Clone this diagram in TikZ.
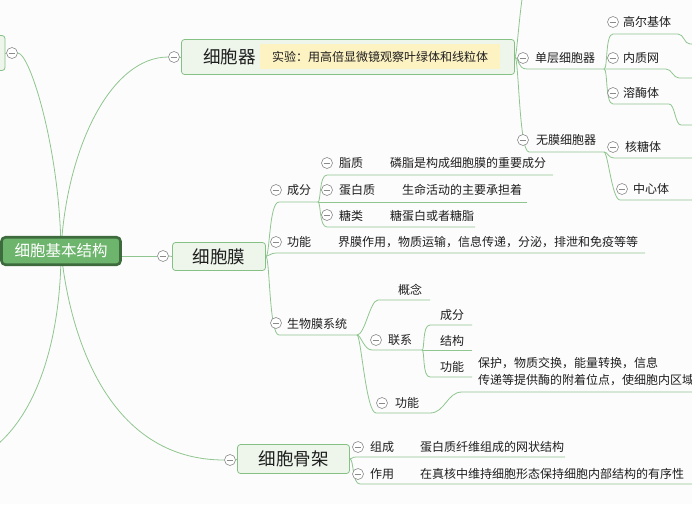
\documentclass[tikz,border=0pt]{standalone}
\usepackage{fontspec}
\setmainfont{Noto Sans CJK SC}
\definecolor{mmbg}{HTML}{FCFCFC}
\definecolor{mmline}{HTML}{8FC68F}
\definecolor{mmgray}{HTML}{8A8A8A}
\definecolor{mmfill}{HTML}{EEF6EC}
\definecolor{mmborder}{HTML}{85C185}
\definecolor{mmroot}{HTML}{6DB46D}
\definecolor{mmrootdark}{HTML}{3E6B3E}
\definecolor{mmnote}{HTML}{FDF2C2}
\definecolor{mmtext}{HTML}{1E1E1E}
\tikzset{
  topic/.style={draw=mmborder, fill=mmfill, rounded corners=3pt, line width=0.8pt,
    inner sep=0pt, text=mmtext, font=\fontsize{17.5}{20}\selectfont},
  roottopic/.style={draw=mmrootdark, fill=mmroot, rounded corners=4pt, line width=2.6pt,
    inner sep=0pt, text=white, font=\fontsize{15.5}{18}\selectfont,
    minimum width=119pt, minimum height=27.5pt},
  fold/.style={circle, draw=mmgray, fill=white, line width=0.6pt, minimum size=11pt,
    inner sep=0pt, path picture={\draw[mmgray, line width=0.7pt]
      ([xshift=-3.3pt]path picture bounding box.center) --
      ([xshift=3.3pt]path picture bounding box.center);}},
  lbl/.style={anchor=west, inner sep=0pt, text=mmtext, font=\fontsize{12}{14}\selectfont},
  notebox/.style={fill=mmnote, inner sep=0pt, minimum width=240pt, minimum height=25pt,
    text=mmtext, font=\fontsize{12}{14}\selectfont},
  conn/.style={draw=mmline, line width=0.8pt},
}

\begin{document}
\begin{tikzpicture}[x=1pt, y=-1pt]
  \useasboundingbox (0,0) rectangle (692,504);
  \fill[mmbg] (0,0) rectangle (692,504);
  \clip (0,0) rectangle (692,504);

  % topics
  \node[topic, minimum width=100pt, minimum height=35pt] (left) at (-45,53) {};
  \node[topic, minimum width=333pt, minimum height=35pt] (qi) at (348,57) {};
  \node[topic, minimum width=93pt, minimum height=28pt] (mem) at (219,256.5) {细胞膜};
  \node[topic, minimum width=112pt, minimum height=29pt] (sk) at (293.5,459) {细胞骨架};

  % folds
  \node[fold] (f-left) at (12,53) {};
  \node[fold] (f-qi) at (174,57) {};
  \node[fold] (f-mem) at (163,256) {};
  \node[fold] (f-sk) at (230,460) {};

  % underline ends
  \coordinate (hub) at (61,251);
  \coordinate (qi-up) at (535,-40);
  \coordinate (offleft) at (-40,465);
  \coordinate (dc-s) at (527,69);   \coordinate (dc-e) at (604,69);
  \coordinate (wm-s) at (529,152);  \coordinate (wm-e) at (604,152);
  \coordinate (gej-s) at (613,34);  \coordinate (gej-e) at (678,34);  \coordinate (gej-o) at (690,44);
  \coordinate (nzw-e) at (666,69);  \coordinate (nzw-o) at (679,78);
  \coordinate (rmt-s) at (613,104); \coordinate (rmt-e) at (669,104); \coordinate (rmt-o) at (681,125);
  \coordinate (htt-s) at (614,158);
  \coordinate (zxt-s) at (620,200);
  \coordinate (cf-s) at (279,202);  \coordinate (cf-e) at (318,202);
  \coordinate (gn-s) at (276,253);  \coordinate (gn-e) at (645,253);
  \coordinate (swm-s) at (279,335); \coordinate (swm-e) at (357,335);
  \coordinate (zz-s) at (327,175);  \coordinate (zz-e) at (553,175);
  \coordinate (dbz-e) at (527,202);
  \coordinate (tl-s) at (327,227);  \coordinate (tl-e) at (475,227);
  \coordinate (gnn-s) at (378,300); \coordinate (gnn-e) at (430,300);
  \coordinate (lx-s) at (372,350);  \coordinate (lx-e) at (422,350);
  \coordinate (gn2-s) at (376,413); \coordinate (gn2-e) at (430,413); \coordinate (gn2-o) at (462,392);
  \coordinate (cf2-s) at (430,325); \coordinate (cf2-e) at (472,325);
  \coordinate (jg-e) at (472,350);
  \coordinate (gn3-s) at (430,377); \coordinate (gn3-e) at (472,377);
  \coordinate (zc-s) at (356,457);  \coordinate (zc-e) at (565,457);
  \coordinate (zy-s) at (360,484);

  % connectors from the root
  \draw[conn] (hub) .. controls (60,150) and (30,53) .. (f-left.east);
  \draw[conn] (hub) .. controls (66,150) and (110,57) .. (f-qi.west);
  \draw[conn] (hub |- f-mem.west) -- (f-mem.west);
  \draw[conn] (hub) .. controls (61,350) and (30,445) .. (offleft);
  \draw[conn] (hub) .. controls (70,340) and (110,460) .. (f-sk.west);
  \node[roottopic] (root) at (hub) {细胞基本结构};
  \draw[conn] (f-left.west) -- (left.east);
  \draw[conn] (f-qi.east) -- (qi.west);
  \draw[conn] (f-mem.east) -- (mem.west);
  \draw[conn] (f-sk.east) -- (sk.west);

  % 细胞器
  \draw[conn] (qi.east) .. controls +(3,0) and +(-14,0) .. (qi-up);
  \draw[conn] (qi.east) .. controls +(4,0) and +(-10,0) .. (dc-s) -- (dc-e);
  \draw[conn] (qi.east) .. controls +(4,0) and +(-10,0) .. (wm-s) -- (wm-e);
  \draw[conn] (dc-e) .. controls +(4,0) and +(-8,0) .. (gej-s) -- (gej-e)
    .. controls +(6,0) and +(-6,0) .. (gej-o) -- ++(40,0);
  \draw[conn] (dc-e) -- (nzw-e) .. controls +(6,0) and +(-6,0) .. (nzw-o) -- ++(40,0);
  \draw[conn] (dc-e) .. controls +(4,0) and +(-8,0) .. (rmt-s) -- (rmt-e)
    .. controls +(6,0) and +(-6,0) .. (rmt-o) -- ++(40,0);
  \draw[conn] (wm-e) .. controls +(4,0) and +(-6,0) .. (htt-s) -- ++(90,0);
  \draw[conn] (wm-e) .. controls +(4,0) and +(-8,0) .. (zxt-s) -- ++(90,0);

  \node[lbl, font=\fontsize{17.5}{20}\selectfont] (qi-t) at (203,57) {细胞器};
  \node[notebox, anchor=west] (qi-note) at (260,56.5) {实验：用高倍显微镜观察叶绿体和线粒体};
  \node[fold] (f-dc) at (523,58) {};   \node[lbl] (dc) at (535,58) {单层细胞器};
  \node[fold] (f-wm) at (523,140) {};  \node[lbl] (wm) at (536,140) {无膜细胞器};
  \node[fold] (f-gej) at (613,22) {};  \node[lbl] (gej) at (623,22) {高尔基体};
  \node[fold] (f-nzw) at (613,58) {};  \node[lbl] (nzw) at (623,58) {内质网};
  \node[fold] (f-rmt) at (613,93) {};  \node[lbl] (rmt) at (623,93) {溶酶体};
  \node[fold] (f-htt) at (613,147) {}; \node[lbl] (htt) at (625,147) {核糖体};
  \node[fold] (f-zxt) at (622,189) {}; \node[lbl] (zxt) at (633,189) {中心体};

  % 细胞膜
  \draw[conn] (mem.east) .. controls +(4,0) and +(-10,0) .. (cf-s) -- (cf-e);
  \draw[conn] (mem.east) .. controls +(3,0) and +(-6,0) .. (gn-s) -- (gn-e);
  \draw[conn] (mem.east) .. controls +(4,0) and +(-10,0) .. (swm-s) -- (swm-e);
  \draw[conn] (cf-e) .. controls +(3,0) and +(-8,0) .. (zz-s) -- (zz-e);
  \draw[conn] (cf-e) -- (dbz-e);
  \draw[conn] (cf-e) .. controls +(3,0) and +(-8,0) .. (tl-s) -- (tl-e);
  \draw[conn] (swm-e) .. controls +(8,0) and +(-8,0) .. (gnn-s) -- (gnn-e);
  \draw[conn] (swm-e) .. controls +(4,0) and +(-8,0) .. (lx-s) -- (lx-e);
  \draw[conn] (swm-e) .. controls +(4,0) and +(-10,0) .. (gn2-s) -- (gn2-e)
    .. controls +(15,0) and +(-15,0) .. (gn2-o) -- ++(260,0);
  \draw[conn] (lx-e) .. controls +(3,0) and +(-8,0) .. (cf2-s) -- (cf2-e);
  \draw[conn] (lx-e) -- (jg-e);
  \draw[conn] (lx-e) .. controls +(3,0) and +(-8,0) .. (gn3-s) -- (gn3-e);

  \node[fold] (f-cf) at (276,190) {};  \node[lbl] (cf) at (287,190) {成分};
  \node[fold] (f-gn) at (276,242) {};  \node[lbl] (gn) at (287,242) {功能};
  \node[lbl] (gn-n) at (338,242) {界膜作用，物质运输，信息传递，分泌，排泄和免疫等等};
  \node[fold] (f-swm) at (276,323) {}; \node[lbl] (swm) at (287,324) {生物膜系统};
  \node[fold] (f-zz) at (327,163) {};  \node[lbl] (zz) at (339,163) {脂质};
  \node[lbl] (zz-n) at (390,163) {磷脂是构成细胞膜的重要成分};
  \node[fold] (f-dbz) at (327,190) {}; \node[lbl] (dbz) at (339,190) {蛋白质};
  \node[lbl] (dbz-n) at (402,190) {生命活动的主要承担着};
  \node[fold] (f-tl) at (327,215) {};  \node[lbl] (tl) at (339,216) {糖类};
  \node[lbl] (tl-n) at (390,216) {糖蛋白或者糖脂};
  \node[lbl] (gnn) at (398,290) {概念};
  \node[fold] (f-lx) at (376,340) {};  \node[lbl] (lx) at (388,340) {联系};
  \node[lbl] (cf2) at (440,315) {成分};
  \node[lbl] (jg) at (440,341) {结构};
  \node[lbl] (gn3) at (440,367) {功能};
  \node[fold] (f-gn2) at (382,403) {}; \node[lbl] (gn2) at (395,403) {功能};
  \node[lbl, align=left, font=\fontsize{12}{17}\selectfont] (gn2-n) at (478,371.5)
    {保护，物质交换，能量转换，信息\\传递等提供酶的附着位点，使细胞内区域};

  % 细胞骨架
  \draw[conn] (sk.east) .. controls +(2,0) and +(-4,0) .. (zc-s) -- (zc-e);
  \draw[conn] (sk.east) .. controls +(4,0) and +(-8,0) .. (zy-s) -- ++(360,0);
  \node[fold] (f-zc) at (358,447) {};  \node[lbl] (zc) at (370,447) {组成};
  \node[lbl] (zc-n) at (420,447) {蛋白质纤维组成的网状结构};
  \node[fold] (f-zy) at (358,474) {};  \node[lbl] (zy) at (370,474) {作用};
  \node[lbl] (zy-n) at (420,474) {在真核中维持细胞形态保持细胞内部结构的有序性};
\end{tikzpicture}
\end{document}
